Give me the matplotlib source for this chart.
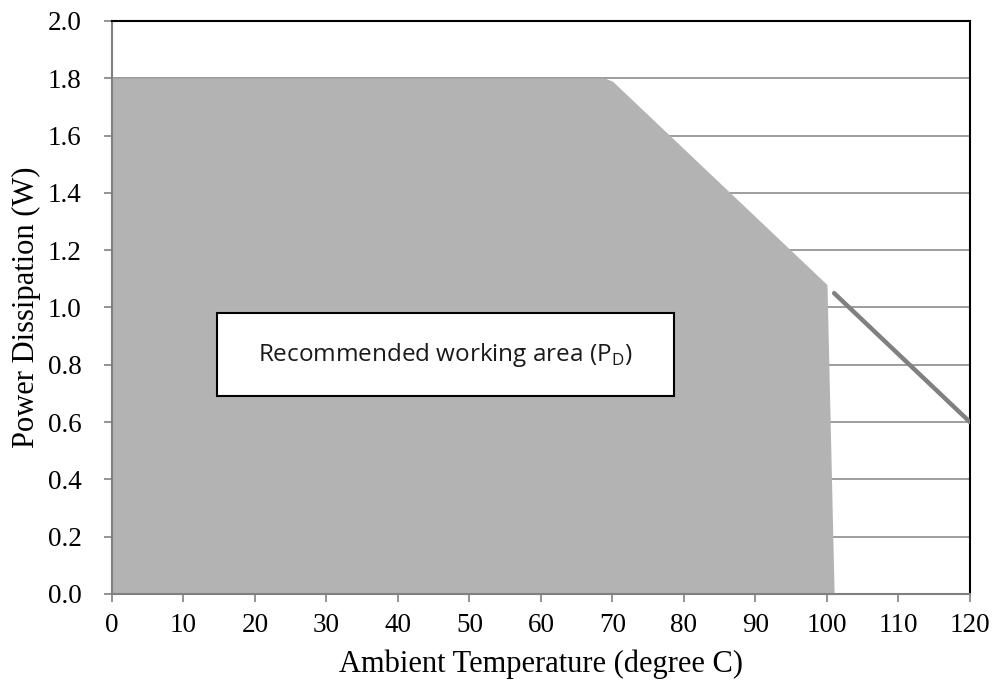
import matplotlib.pyplot as plt
from matplotlib.patches import Rectangle

# safe operating area outline (deg C, W)
area_temp = [0, 69, 70, 100, 101]
area_power = [1.8, 1.8, 1.79, 1.08, 0.0]

# derating line beyond the area
line_temp = [101, 120]
line_power = [1.05, 0.6]

x_ticks = list(range(0, 121, 10))
y_ticks = [0.0, 0.2, 0.4, 0.6, 0.8, 1.0, 1.2, 1.4, 1.6, 1.8, 2.0]

serif = "Liberation Serif"

fig = plt.figure(figsize=(9.92, 6.84), dpi=100)
ax = fig.add_axes([0.1129, 0.1316, 0.8649, 0.8377])

ax.fill_between(area_temp, area_power, 0, color="#b3b3b3", lw=0, zorder=2)
ax.plot(line_temp, line_power, color="#808080", lw=3.2, solid_capstyle="round", zorder=3)

ax.set_xlim(0, 120)
ax.set_ylim(0, 2.0)
ax.set_xticks(x_ticks)
ax.set_yticks(y_ticks)
ax.set_xticklabels([str(t) for t in x_ticks], family=serif, fontsize=19.5)
ax.set_yticklabels([f"{t:.1f}" for t in y_ticks], family=serif, fontsize=19.5)

ax.yaxis.grid(True, color="#8c8c8c", lw=1.2, zorder=1)
ax.set_axisbelow(True)
ax.tick_params(axis="both", direction="out", length=6, width=1.2, color="#808080")
ax.tick_params(axis="x", pad=8)
ax.tick_params(axis="y", pad=16)

for side in ("left", "bottom"):
    ax.spines[side].set_color("#808080")
    ax.spines[side].set_linewidth(1.5)
for side in ("top", "right"):
    ax.spines[side].set_color("black")
    ax.spines[side].set_linewidth(1.5)

ax.set_xlabel("Ambient Temperature (degree C)", family=serif, fontsize=22, labelpad=8)
ax.set_ylabel("Power Dissipation (W)", family=serif, fontsize=22, labelpad=5)

# annotation box
ax.add_patch(Rectangle((14.7, 0.691), 63.9, 0.29, fc="white", ec="black", lw=1.5, zorder=4))
ax.text(46.6, 0.834, "Recommended working area (P$_\\mathregular{D}$)", family="Open Sans",
        fontsize=17.5, ha="center", va="center", color="#1a1a1a", zorder=5)

plt.savefig("out.png", dpi=100)
